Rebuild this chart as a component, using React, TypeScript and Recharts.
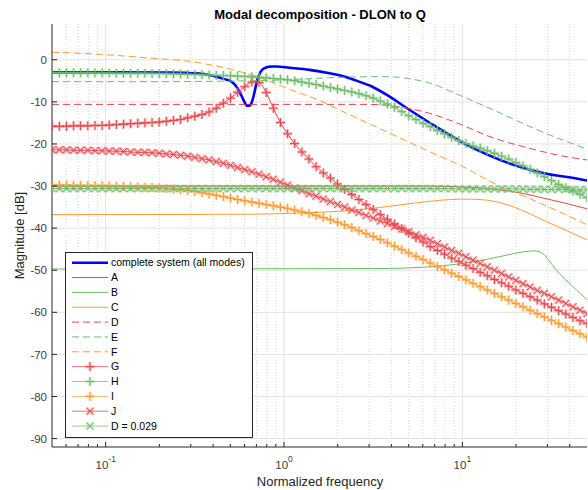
import React from 'react'
import { LineChart, Line, XAxis, YAxis, CartesianGrid } from 'recharts'

const FONT = '"Liberation Sans", Arial, Helvetica, sans-serif'
const AXIS = '#262626'
const TICK_TEXT = '#404040'
const RED = '#e8474b'
const GREEN = '#6dbd6a'
const ORANGE = '#ff9b30'
const BLUE = '#0000ff'

// axis ticks
const xMajor = [0.1, 1, 10]
const xMinor = [0.06, 0.07, 0.08, 0.09, 0.2, 0.3, 0.4, 0.5, 0.6, 0.7, 0.8, 0.9, 2, 3, 4, 5, 6, 7, 8, 9, 20, 30, 40]
const yTicks = [-90, -80, -70, -60, -50, -40, -30, -20, -10, 0]

// frequency grid shared by the marker series (0.04 decade steps)
const freqGrid = [
  0.05, 0.055, 0.0603, 0.0661, 0.0724, 0.0794, 0.0871, 0.0955, 0.1047, 0.1148,
  0.1259, 0.138, 0.1514, 0.166, 0.182, 0.1995, 0.2188, 0.2399, 0.263, 0.2884,
  0.3162, 0.3467, 0.3802, 0.4169, 0.4571, 0.5012, 0.5495, 0.6026, 0.6607, 0.7244,
  0.7943, 0.871, 0.955, 1.047, 1.148, 1.259, 1.38, 1.514, 1.66, 1.82,
  1.995, 2.188, 2.399, 2.63, 2.884, 3.162, 3.467, 3.802, 4.169, 4.571,
  5.012, 5.495, 6.026, 6.607, 7.244, 7.943, 8.71, 9.55, 10.47, 11.48,
  12.59, 13.8, 15.14, 16.6, 18.2, 19.95, 21.88, 23.99, 26.3, 28.84,
  31.62, 34.67, 38.02, 41.69, 45.71, 50,
]

const modeG = [
  -15.8, -15.8, -15.8, -15.7, -15.7, -15.7, -15.6, -15.6, -15.5, -15.4,
  -15.3, -15.2, -15.1, -15.0, -14.9, -14.8, -14.6, -14.4, -14.2, -13.8,
  -13.4, -13.0, -12.4, -11.5, -10.3, -9.1, -7.7, -6.4, -5.3, -5.4,
  -7.8, -11.5, -14.9, -17.6, -19.9, -21.9, -23.6, -25.4, -26.9, -28.1,
  -29.5, -30.8, -32.0, -33.2, -34.4, -35.6, -36.8, -37.9, -39.0, -40.1,
  -41.2, -42.3, -43.3, -44.4, -45.3, -46.2, -47.1, -47.9, -48.8, -49.6,
  -50.5, -51.3, -52.2, -53.0, -53.8, -54.7, -55.5, -56.3, -57.1, -58.0,
  -58.8, -59.6, -60.4, -61.2, -62.0, -62.7,
]

const modeH = [
  -3.1, -3.1, -3.1, -3.1, -3.1, -3.1, -3.15, -3.15, -3.15, -3.2,
  -3.2, -3.2, -3.2, -3.2, -3.25, -3.25, -3.3, -3.35, -3.4, -3.45,
  -3.5, -3.55, -3.6, -3.7, -3.75, -3.8, -3.9, -3.95, -4.05, -4.15,
  -4.3, -4.45, -4.6, -4.75, -5.0, -5.3, -5.6, -5.9, -6.25, -6.6,
  -6.95, -7.3, -7.65, -8.05, -8.55, -9.1, -9.8, -10.5, -11.3, -12.3,
  -13.3, -14.2, -15.1, -15.9, -16.8, -17.6, -18.4, -19.2, -19.9, -20.5,
  -21.0, -21.6, -22.2, -22.9, -23.6, -24.4, -25.2, -26.0, -26.9, -27.8,
  -28.7, -29.6, -30.4, -31.2, -32.0, -32.8,
]

const modeI = [
  -29.8, -29.8, -29.8, -29.85, -29.85, -29.9, -29.9, -29.95, -30.0, -30.05,
  -30.1, -30.15, -30.2, -30.3, -30.35, -30.45, -30.6, -30.7, -30.85, -31.05,
  -31.3, -31.6, -31.9, -32.2, -32.5, -32.85, -33.2, -33.5, -33.8, -34.1,
  -34.4, -34.7, -35.0, -35.3, -35.7, -36.1, -36.5, -37.0, -37.5, -38.0,
  -38.6, -39.2, -39.9, -40.6, -41.3, -42.0, -42.7, -43.5, -44.3, -45.1,
  -45.9, -46.7, -47.5, -48.3, -49.1, -49.9, -50.7, -51.5, -52.3, -53.1,
  -53.9, -54.7, -55.5, -56.3, -57.1, -57.9, -58.7, -59.5, -60.3, -61.1,
  -61.9, -62.7, -63.5, -64.3, -65.1, -65.9,
]

const modeJ = [
  -21.4, -21.4, -21.4, -21.5, -21.5, -21.5, -21.6, -21.6, -21.7, -21.7,
  -21.8, -21.9, -22.0, -22.0, -22.1, -22.2, -22.4, -22.5, -22.7, -22.9,
  -23.2, -23.5, -23.8, -24.2, -24.6, -25.1, -25.6, -26.1, -26.6, -27.2,
  -27.8, -28.4, -29.1, -29.8, -30.5, -31.1, -31.8, -32.4, -33.1, -33.7,
  -34.4, -35.0, -35.7, -36.3, -37.0, -37.6, -38.3, -38.9, -39.6, -40.2,
  -40.9, -41.6, -42.2, -42.9, -43.7, -44.5, -45.3, -46.0, -46.8, -47.6,
  -48.4, -49.2, -50.0, -50.8, -51.6, -52.4, -53.2, -54.0, -54.8, -55.5,
  -56.3, -57.1, -57.9, -58.7, -59.5, -60.3,
]

const damped029 = [
  -30.6, -30.6, -30.6, -30.6, -30.6, -30.6, -30.6, -30.6, -30.6, -30.6,
  -30.6, -30.6, -30.6, -30.6, -30.6, -30.6, -30.6, -30.6, -30.6, -30.6,
  -30.6, -30.6, -30.6, -30.6, -30.6, -30.6, -30.6, -30.6, -30.6, -30.6,
  -30.6, -30.6, -30.6, -30.6, -30.6, -30.6, -30.6, -30.6, -30.6, -30.6,
  -30.6, -30.6, -30.6, -30.6, -30.6, -30.6, -30.6, -30.6, -30.6, -30.6,
  -30.6, -30.6, -30.6, -30.6, -30.6, -30.6, -30.6, -30.7, -30.7, -30.7,
  -30.7, -30.7, -30.7, -30.7, -30.7, -30.7, -30.7, -30.8, -30.8, -30.8,
  -30.8, -30.8, -30.8, -30.9, -30.9, -30.9,
]

// [frequency, magnitude dB] pairs for the plain curves
type Pt = [number, number]

const completeSystem: Pt[] = [
  [0.05, -3.0], [0.1201, -3.0], [0.2287, -3.05], [0.3365, -3.3], [0.4086, -3.9],
  [0.4647, -4.6], [0.5152, -5.4], [0.5493, -6.8], [0.5782, -8.6], [0.6012, -10.1],
  [0.6168, -10.9], [0.6412, -10.9], [0.658, -10.2], [0.6752, -8.6], [0.6929, -6.5],
  [0.711, -4.6], [0.7295, -3.3], [0.7585, -2.3], [0.7985, -1.8], [0.8516, -1.6],
  [0.908, -1.6], [1.074, -1.9], [1.389, -2.4], [1.798, -3.2], [2.045, -3.7],
  [2.481, -4.8], [3.128, -6.4], [3.895, -8.7], [4.85, -11.4], [6.52, -14.9],
  [9.97, -19.6], [14.12, -22.7], [21.61, -25.6], [30.6, -27.2], [39.6, -27.9],
  [50, -28.7],
]

const modeA: Pt[] = [
  [0.05, -30.0], [6.52, -30.0], [10.92, -30.3], [15.45, -30.8], [21.61, -31.7],
  [28.71, -32.9], [37.14, -34.0], [50, -35.4],
]

const modeB: Pt[] = [
  [0.05, -49.7], [3.427, -49.6], [6.52, -49.2], [9.6, -48.5], [14.12, -47.3],
  [18.27, -46.3], [22.18, -45.6], [25.24, -45.4], [27.98, -45.9], [30.61, -47.7],
  [33.5, -49.9], [39.63, -53.0], [50, -57.0],
]

const modeC: Pt[] = [
  [0.05, -36.8], [0.641, -36.7], [1.222, -36.4], [2.045, -36.0], [3.427, -35.1],
  [5.04, -34.2], [7.416, -33.4], [9.97, -33.1], [12.41, -33.2], [15.45, -33.7],
  [19.49, -35.0], [23.66, -36.5], [28.71, -38.2], [36.2, -40.1], [50, -42.8],
]

const modeD: Pt[] = [
  [0.05, -10.6], [3.01, -10.6], [4.429, -11.2], [6.52, -12.7], [9.97, -15.5],
  [14.12, -18.2], [23.66, -21.0], [34.8, -22.7], [50, -23.8],
]

const modeE: Pt[] = [
  [0.05, -5.2], [0.1767, -5.2], [0.641, -5.0], [1.222, -4.6], [2.326, -4.1],
  [3.895, -4.0], [5.04, -4.5], [6.52, -5.5], [9.97, -8.7], [15.45, -12.2],
  [23.66, -15.8], [36.2, -19.0], [50, -21.2],
]

const modeF: Pt[] = [
  [0.05, 1.8], [0.0929, 1.3], [0.1767, 0.4], [0.2959, -0.4], [0.4529, -1.8],
  [0.7015, -4.0], [1.074, -7.0], [1.644, -10.0], [2.045, -11.9], [3.895, -17.4],
  [6.52, -21.8], [9.97, -25.3], [15.45, -29.6], [23.66, -32.9], [36.2, -36.4],
  [50, -39.2],
]

type Row = { f: number; v: number }
type Marker = 'plus' | 'cross'
type Series = { name: string; color: string; rows: Row[]; width: number; dash?: string; marker?: Marker }

const fromPairs = (pts: Pt[]): Row[] => pts.map(([f, v]) => ({ f, v }))
const onGrid = (vals: number[]): Row[] => freqGrid.map((f, i) => ({ f, v: vals[i] }))

const series: Series[] = [
  { name: 'complete system (all modes)', color: BLUE, rows: fromPairs(completeSystem), width: 2.6 },
  { name: 'A', color: RED, rows: fromPairs(modeA), width: 1 },
  { name: 'B', color: GREEN, rows: fromPairs(modeB), width: 1 },
  { name: 'C', color: ORANGE, rows: fromPairs(modeC), width: 1 },
  { name: 'D', color: RED, rows: fromPairs(modeD), width: 1, dash: '7 4' },
  { name: 'E', color: GREEN, rows: fromPairs(modeE), width: 1, dash: '7 4' },
  { name: 'F', color: ORANGE, rows: fromPairs(modeF), width: 1, dash: '7 4' },
  { name: 'G', color: RED, rows: onGrid(modeG), width: 1, marker: 'plus' },
  { name: 'H', color: GREEN, rows: onGrid(modeH), width: 1, marker: 'plus' },
  { name: 'I', color: ORANGE, rows: onGrid(modeI), width: 1, marker: 'plus' },
  { name: 'J', color: RED, rows: onGrid(modeJ), width: 1, marker: 'cross' },
  { name: 'D = 0.029', color: GREEN, rows: onGrid(damped029), width: 1, marker: 'cross' },
]

function markerPath(kind: Marker, cx: number, cy: number) {
  const h = kind === 'plus' ? 4.5 : 3.5
  return kind === 'plus'
    ? `M${cx - h},${cy}H${cx + h}M${cx},${cy - h}V${cy + h}`
    : `M${cx - h},${cy - h}L${cx + h},${cy + h}M${cx - h},${cy + h}L${cx + h},${cy - h}`
}

function MarkerGlyph({ kind, color, cx, cy }: { kind: Marker; color: string; cx: number; cy: number }) {
  const d = markerPath(kind, cx, cy)
  return (
    <g>
      <path d={d} stroke={color} strokeOpacity={0.35} strokeWidth={3} fill="none" />
      <path d={d} stroke={color} strokeWidth={1} fill="none" />
    </g>
  )
}

const makeDot = (kind: Marker, color: string) => (props: any) => {
  const { cx, cy, index } = props
  if (cx == null || cy == null) return <g key={`m-${index}`} />
  return (
    <g key={`m-${index}`}>
      <MarkerGlyph kind={kind} color={color} cx={cx} cy={cy} />
    </g>
  )
}

const allXTicks = [...xMinor, ...xMajor].sort((a, b) => a - b)

function BottomTick(props: any) {
  const { x, y, payload } = props
  const major = xMajor.includes(payload.value)
  const exp = Math.round(Math.log10(payload.value))
  return (
    <g>
      <line x1={x} x2={x} y1={y} y2={y - (major ? 5 : 3)} stroke={AXIS} />
      {major && (
        <text x={x} y={y + 22} textAnchor="middle" fill={TICK_TEXT} fontSize={11.5} fontFamily={FONT}>
          <tspan>10</tspan>
          <tspan dy={-7} fontSize={8.5}>{exp}</tspan>
        </text>
      )}
    </g>
  )
}

function TopTick(props: any) {
  const { x, y, payload } = props
  const major = xMajor.includes(payload.value)
  return <line x1={x} x2={x} y1={y} y2={y + (major ? 5 : 3)} stroke={AXIS} />
}

function LeftTick(props: any) {
  const { x, y, payload } = props
  return (
    <g>
      <line x1={x} x2={x + 5} y1={y} y2={y} stroke={AXIS} />
      <text x={x - 5} y={y} dy="0.36em" textAnchor="end" fill={TICK_TEXT} fontSize={11.5} fontFamily={FONT}>
        {payload.value}
      </text>
    </g>
  )
}

function RightTick(props: any) {
  const { x, y } = props
  return <line x1={x} x2={x - 5} y1={y} y2={y} stroke={AXIS} />
}

function LegendBox() {
  return (
    <g transform="translate(65,252)">
      <rect x={0.5} y={0.5} width={187} height={185} fill="#fff" stroke={AXIS} />
      {series.map((s, i) => {
        const cy = 10.7 + i * 14.85
        return (
          <g key={s.name}>
            <line x1={7} x2={43} y1={cy} y2={cy} stroke={s.color} strokeWidth={s.width}
              strokeDasharray={s.dash} strokeOpacity={s.marker ? 0.75 : 1} />
            {s.marker && <MarkerGlyph kind={s.marker} color={s.color} cx={25} cy={cy} />}
            <text x={46} y={cy} dy="0.36em" fontSize={10.5} fill="#000" fontFamily={FONT}>{s.name}</text>
          </g>
        )
      })}
    </g>
  )
}

export default function App() {
  return (
    <div style={{ position: 'absolute', left: 0, top: 0, width: 588, height: 490, background: '#fff', fontFamily: FONT }}>
      <LineChart width={588} height={490} margin={{ top: 24, right: 1, bottom: 0, left: 0 }}>
        <XAxis dataKey="f" type="number" scale="log" domain={[0.05, 50]} allowDataOverflow
          ticks={allXTicks} interval={0} height={43} tickSize={0} tickMargin={0}
          stroke={AXIS} tick={<BottomTick />} />
        <XAxis xAxisId="top" orientation="top" dataKey="f" type="number" scale="log" domain={[0.05, 50]}
          allowDataOverflow ticks={allXTicks} interval={0} height={0} tickSize={0} tickMargin={0}
          stroke={AXIS} tick={<TopTick />} />
        <YAxis type="number" domain={[-92, 8.5]} allowDataOverflow ticks={yTicks} interval={0}
          width={52} tickSize={0} tickMargin={0} stroke={AXIS} tick={<LeftTick />} />
        <YAxis yAxisId="right" orientation="right" type="number" domain={[-92, 8.5]} allowDataOverflow
          ticks={yTicks} interval={0} width={0} tickSize={0} tickMargin={0} stroke={AXIS} tick={<RightTick />} />
        <CartesianGrid horizontal={false} verticalValues={xMinor} stroke="#d6d6d6" strokeDasharray="1 2" />
        <CartesianGrid verticalValues={xMajor} horizontalValues={yTicks} stroke="#e2e2e2" />
        {series.map((s) => (
          <Line key={s.name} name={s.name} data={s.rows} dataKey="v" type="monotone"
            stroke={s.color} strokeWidth={s.width} strokeDasharray={s.dash}
            dot={s.marker ? makeDot(s.marker, s.color) : false} activeDot={false}
            isAnimationActive={false} />
        ))}
      </LineChart>
      <svg width={588} height={490} style={{ position: 'absolute', left: 0, top: 0, pointerEvents: 'none' }}>
        <text x={320} y={19} textAnchor="middle" fontWeight="bold" fontSize={13} fill="#000" fontFamily={FONT}>
          Modal decomposition - DLON to Q
        </text>
        <text x={320} y={486} textAnchor="middle" fontSize={13} fill={AXIS} fontFamily={FONT}>
          Normalized frequency
        </text>
        <text x={19} y={235.5} dy="0.36em" textAnchor="middle" fontSize={13} fill={AXIS}
          fontFamily={FONT} transform="rotate(-90, 19, 235.5)">
          Magnitude [dB]
        </text>
        <LegendBox />
      </svg>
    </div>
  )
}
